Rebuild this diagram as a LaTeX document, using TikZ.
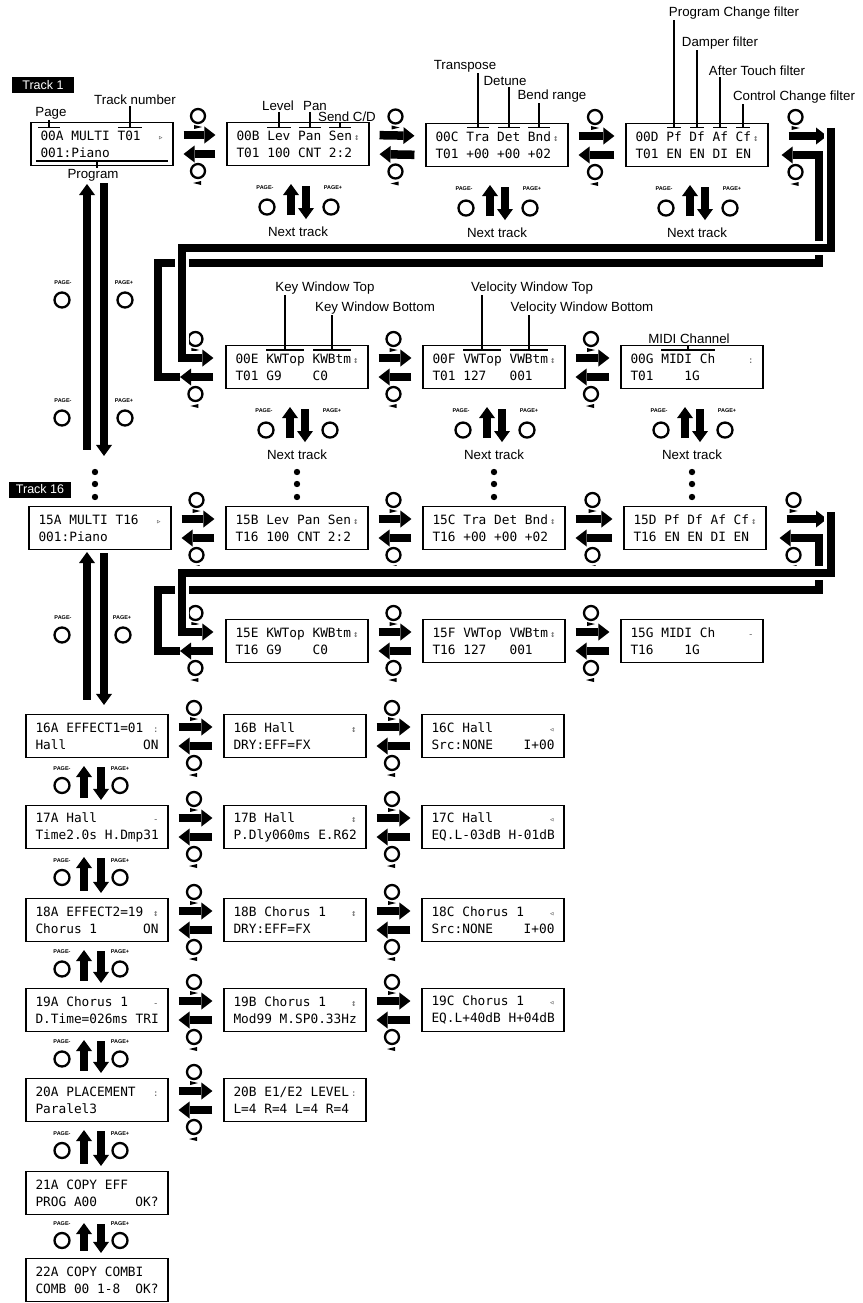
\documentclass[tikz,border=0pt]{standalone}
\usepackage{fontspec}
\setmainfont{Liberation Sans}
\newfontfamily\lcdfont{DejaVu Sans Mono}
\usetikzlibrary{arrows.meta,calc}
\newcommand{\lcdrow}[2]{\makebox[123pt][l]{#1\hfill#2}}
\newcommand{\ind}[1]{{\color{black!65}\fontsize{9}{9}\selectfont#1}}

\begin{document}
\begin{tikzpicture}[x=1pt, y=1pt,
    lcd/.style = {draw, line width=1.1pt, minimum width=142pt, minimum height=43pt, inner sep=0pt, align=left, font=\fontsize{12.8}{17}\lcdfont},
    lbl/.style = {font=\fontsize{13.3}{15}\selectfont, inner sep=1pt},
    pg/.style = {font=\fontsize{5.5}{6}\selectfont\bfseries, inner sep=0pt},
    btn/.style = {circle, draw, line width=2.3pt, minimum size=14pt, inner sep=0pt},
    pbtn/.style = {circle, draw, line width=2.3pt, minimum size=15pt, inner sep=0pt},
    harr/.style = {line width=8.5pt, -{Triangle[length=11pt, width=17pt, line width=0pt]}},
    varr/.style = {line width=8.5pt, -{Triangle[length=11pt, width=16pt, line width=0pt]}},
    trk/.style = {fill=black, text=white, font=\fontsize{12.5}{14}\selectfont, minimum width=62pt, minimum height=16pt, inner sep=0pt},
    lead/.style = {line width=1.1pt},
    fwdln/.style = {line width=8.5pt, preaction={draw=white, line width=14pt}},
    retln/.style = {line width=8.5pt}
  ]
  \useasboundingbox (0,0) rectangle (862,-1303);

  % track 1
  \node[trk] (trk1) at (43,-85) {Track 1};
  \node[lcd] (a00) at (102,-144) {\lcdrow{00A MULTI T01}{\ind{▹}}\\\lcdrow{001:Piano}{}};
  \node[lcd] (b00) at (298,-144) {\lcdrow{00B Lev Pan Sen}{\ind{↕}}\\\lcdrow{T01 100 CNT 2:2}{}};
  \node[lcd] (c00) at (497,-145) {\lcdrow{00C Tra Det Bnd}{\ind{↕}}\\\lcdrow{T01 +00 +00 +02}{}};
  \node[lcd] (d00) at (697,-145) {\lcdrow{00D Pf Df Af Cf}{\ind{↕}}\\\lcdrow{T01 EN EN DI EN}{}};
  \node[lcd] (e00) at (297,-367) {\lcdrow{00E KWTop KWBtm}{\ind{↕}}\\\lcdrow{T01 G9~~~~C0}{}};
  \node[lcd] (f00) at (494,-367) {\lcdrow{00F VWTop VWBtm}{\ind{↕}}\\\lcdrow{T01 127~~~001}{}};
  \node[lcd] (g00) at (692,-367) {\lcdrow{00G MIDI Ch}{\ind{:}}\\\lcdrow{T01~~~~1G}{}};

  % track 16
  \node[trk] (trk16) at (40,-489.5) {Track 16};
  \node[lcd] (a15) at (100,-528) {\lcdrow{15A MULTI T16}{\ind{▹}}\\\lcdrow{001:Piano}{}};
  \node[lcd] (b15) at (297,-528) {\lcdrow{15B Lev Pan Sen}{\ind{↕}}\\\lcdrow{T16 100 CNT 2:2}{}};
  \node[lcd] (c15) at (494,-528) {\lcdrow{15C Tra Det Bnd}{\ind{↕}}\\\lcdrow{T16 +00 +00 +02}{}};
  \node[lcd] (d15) at (695,-528) {\lcdrow{15D Pf Df Af Cf}{\ind{↕}}\\\lcdrow{T16 EN EN DI EN}{}};
  \node[lcd] (e15) at (297,-641) {\lcdrow{15E KWTop KWBtm}{\ind{↕}}\\\lcdrow{T16 G9~~~~C0}{}};
  \node[lcd] (f15) at (494,-641) {\lcdrow{15F VWTop VWBtm}{\ind{↕}}\\\lcdrow{T16 127~~~001}{}};
  \node[lcd] (g15) at (692,-641) {\lcdrow{15G MIDI Ch}{\ind{-}}\\\lcdrow{T16~~~~1G}{}};

  % effects
  \node[lcd] (a16) at (97,-736) {\lcdrow{16A EFFECT1=01}{\ind{:}}\\\lcdrow{Hall}{ON}};
  \node[lcd] (b16) at (295,-736) {\lcdrow{16B Hall}{\ind{↕}}\\\lcdrow{DRY:EFF=FX}{}};
  \node[lcd] (c16) at (493,-736) {\lcdrow{16C Hall}{\ind{◃}}\\\lcdrow{Src:NONE}{I+00}};
  \node[lcd] (a17) at (97,-827) {\lcdrow{17A Hall}{\ind{-}}\\\lcdrow{Time2.0s H.Dmp31}{}};
  \node[lcd] (b17) at (295,-827) {\lcdrow{17B Hall}{\ind{↕}}\\\lcdrow{P.Dly060ms E.R62}{}};
  \node[lcd] (c17) at (493,-827) {\lcdrow{17C Hall}{\ind{◃}}\\\lcdrow{EQ.L-03dB H-01dB}{}};
  \node[lcd] (a18) at (97,-920) {\lcdrow{18A EFFECT2=19}{\ind{↕}}\\\lcdrow{Chorus 1}{ON}};
  \node[lcd] (b18) at (295,-920) {\lcdrow{18B Chorus 1}{\ind{↕}}\\\lcdrow{DRY:EFF=FX}{}};
  \node[lcd] (c18) at (493,-920) {\lcdrow{18C Chorus 1}{\ind{◃}}\\\lcdrow{Src:NONE}{I+00}};
  \node[lcd] (a19) at (97,-1010) {\lcdrow{19A Chorus 1}{\ind{-}}\\\lcdrow{D.Time=026ms TRI}{}};
  \node[lcd] (b19) at (295,-1010) {\lcdrow{19B Chorus 1}{\ind{↕}}\\\lcdrow{Mod99 M.SP0.33Hz}{}};
  \node[lcd] (c19) at (493,-1010) {\lcdrow{19C Chorus 1}{\ind{◃}}\\\lcdrow{EQ.L+40dB H+04dB}{}};
  \node[lcd] (a20) at (97,-1100) {\lcdrow{20A PLACEMENT}{\ind{:}}\\\lcdrow{Paralel3}{}};
  \node[lcd] (b20) at (295,-1100) {\lcdrow{20B E1/E2 LEVEL}{\ind{:}}\\\lcdrow{L=4 R=4 L=4 R=4}{}};
  \node[lcd] (a21) at (97,-1193) {\lcdrow{21A COPY EFF}{}\\\lcdrow{PROG A00}{OK?}};
  \node[lcd] (a22) at (97,-1280) {\lcdrow{22A COPY COMBI}{}\\\lcdrow{COMB 00 1-8}{OK?}};

  % parameter names
  \foreach \n/\t/\x/\y in {lpage/Page/51/-113, ltrk/Track number/135/-100,
      llev/Level/278/-106, lpan/Pan/315/-106, lsend/{Send C/D}/347/-117,
      ltra/Transpose/465/-66, ldet/Detune/505/-81, lbnd/Bend range/552/-96,
      lpcf/Program Change filter/734/-13, ldmp/Damper filter/720/-43,
      laft/After Touch filter/757/-71, lccf/Control Change filter/794/-97,
      lkwt/Key Window Top/325/-288, lkwb/Key Window Bottom/375/-308,
      lvwt/Velocity Window Top/532/-288, lvwb/Velocity Window Bottom/582/-308,
      lmidi/MIDI Channel/689/-339}{
    \node[lbl] (\n) at (\x,\y) {\t};
  }
  \foreach \n/\x/\y/\w in {lpage/49/-127.5/11, ltrk/130/-127.5/12, llev/279/-127.5/12,
      lpan/310/-127.5/11, lsend/340/-127.5/11, ltra/478/-127.5/11, ldet/509/-127.5/11,
      lbnd/539/-127.5/11, lpcf/674/-127.5/7, ldmp/697/-127.5/7, laft/720/-127.5/7,
      lccf/743/-127.5/7, lkwt/285/-350/19, lkwb/332/-350/19, lvwt/482/-350/19,
      lvwb/529/-350/19, lmidi/688/-350/27}{
    \coordinate (p\n) at (\x,\y);
    \draw[lead] (\n.south -| p\n) -- (p\n);
    \draw[lead] ([xshift=-\w pt]p\n) -- ([xshift=\w pt]p\n);
  }
  \node[lbl] (lprog) at (93,-175) {Program};
  \coordinate (pprog) at (97,-161);
  \draw[lead] (lprog.north -| pprog) -- (pprog);
  \draw[lead] ([xshift=-61pt]pprog) -- ([xshift=71pt]pprog);

  % cursor keys between pages
  \foreach \l/\r in {a00/b00, b00/c00, c00/d00, e00/f00, f00/g00,
      a15/b15, b15/c15, c15/d15, e15/f15, f15/g15,
      a16/b16, b16/c16, a17/b17, b17/c17, a18/b18, b18/c18,
      a19/b19, b19/c19, a20/b20}{
    \draw[harr, shorten <=10pt, shorten >=11pt] ([yshift=9pt]\l.east) -- ([yshift=9pt]\r.west);
    \draw[harr, shorten <=11pt, shorten >=10pt] ([yshift=-10pt]\r.west) -- ([yshift=-10pt]\l.east);
    \coordinate (m) at ($(\l.east)!0.5!(\r.west)$);
    \node[btn] (\l-u) at ($(m)+(-2,28)$) {};
    \fill ($(m)+(-6,19)$) -- ++(8,-2) -- ++(-8,-2) -- cycle;
    \node[btn] (\l-d) at ($(m)+(-2,-27)$) {};
    \fill ($(m)+(1,-37)$) -- ++(-8,-2) -- ++(8,-2) -- cycle;
  }
  \foreach \k/\n/\s in {1/d00.east/29, 2/e00.west/-28, 3/d15.east/29, 4/e15.west/-28}{
    \coordinate (m) at ($(\n)+(\s,0)$);
    \node[btn] (x\k-u) at ($(m)+(-2,28)$) {};
    \fill ($(m)+(-6,19)$) -- ++(8,-2) -- ++(-8,-2) -- cycle;
    \node[btn] (x\k-d) at ($(m)+(-2,-27)$) {};
    \fill ($(m)+(1,-37)$) -- ++(-8,-2) -- ++(8,-2) -- cycle;
  }

  % track 1: page D on to page E and back
  \coordinate (f1) at (827,-136);
  \coordinate (f1top) at (831,-128);
  \coordinate (f1c) at (182,-248);
  \coordinate (r1a) at (180,-377);
  \coordinate (r1b) at (158,-263);
  \coordinate (r1c) at (819,-155);
  \draw[harr, shorten <=20pt] ([yshift=9pt]d00.east) -- (f1);
  \draw[harr, shorten <=12pt] ([yshift=-10pt]e00.west) -- (r1a);
  \draw[retln, harr, shorten >=13pt] (r1a) -| (r1b) -| (r1c) -- ([yshift=-10pt]d00.east);
  \draw[fwdln, harr, shorten >=12pt] (f1top) |- (f1c) |- ([yshift=9pt]e00.west);

  % track 16: page D on to page E and back
  \coordinate (f2) at (827,-519);
  \coordinate (f2top) at (831,-512);
  \coordinate (f2c) at (182,-573);
  \coordinate (r2a) at (180,-651);
  \coordinate (r2b) at (158,-590);
  \coordinate (r2c) at (819,-538);
  \draw[harr, shorten <=20pt] ([yshift=9pt]d15.east) -- (f2);
  \draw[harr, shorten <=12pt] ([yshift=-10pt]e15.west) -- (r2a);
  \draw[retln, harr, shorten >=13pt] (r2a) -| (r2b) -| (r2c) -- ([yshift=-10pt]d15.east);
  \draw[fwdln, harr, shorten >=12pt] (f2top) |- (f2c) |- ([yshift=9pt]e15.west);

  % next track
  \foreach \b in {b00, c00, d00, e00, f00, g00}{
    \draw[varr] ($(\b.south)+(-7,-49)$) -- ($(\b.south)+(-7,-18)$);
    \draw[varr] ($(\b.south)+(8,-20)$) -- ($(\b.south)+(8,-53)$);
    \node[pbtn] (\b-m) at ($(\b.south)+(-31,-41)$) {};
    \node[pbtn] (\b-p) at ($(\b.south)+(33,-41)$) {};
    \node[pg] (\b-ml) at ($(\b.south)+(-33,-22)$) {PAGE-};
    \node[pg] (\b-pl) at ($(\b.south)+(35,-22)$) {PAGE+};
    \node[lbl] (\b-nt) at ($(\b.south)+(0,-66)$) {Next track};
  }
  \foreach \x in {95, 297, 494, 692}{
    \foreach \y in {472, 484, 497}{
      \fill (\x,-\y) circle (3.2pt);
    }
  }

  % page keys in the first column
  \coordinate (upA) at (87,-184);
  \coordinate (dnA) at (104,-183);
  \draw[varr, shorten <=56pt] (upA |- a15.north) -- (upA);
  \draw[varr, shorten >=50pt] (dnA) -- (dnA |- a15.north);
  \coordinate (upB) at (87,-552);
  \coordinate (dnB) at (104,-553);
  \draw[varr, shorten <=14pt] (upB |- a16.north) -- (upB);
  \draw[varr, shorten >=9pt] (dnB) -- (dnB |- a16.north);
  \foreach \k/\xm/\xp/\y in {1/62/125/-300, 2/62/125/-418, 3/62/123/-635}{
    \node[pbtn] (am\k) at (\xm,\y) {};
    \node[pbtn] (ap\k) at (\xp,\y) {};
    \node[pg] (aml\k) at (\xm+1,\y+17) {PAGE-};
    \node[pg] (apl\k) at (\xp-1,\y+17) {PAGE+};
  }
  \foreach \u/\n in {a16/a17, a17/a18, a18/a19, a19/a20, a20/a21, a21/a22}{
    \draw[varr, shorten <=7pt, shorten >=8pt] ([xshift=-13pt]\n.north) -- ([xshift=-13pt]\u.south);
    \draw[varr, shorten <=9pt, shorten >=5pt] ([xshift=4pt]\u.south) -- ([xshift=4pt]\n.north);
    \coordinate (g) at ($(\u.south)!0.5!(\n.north)$);
    \node[pbtn] (\u-m) at ($(g)+(-35,-4)$) {};
    \node[pbtn] (\u-p) at ($(g)+(23,-4)$) {};
    \node[pg] (\u-ml) at ($(g)+(-35,13)$) {PAGE-};
    \node[pg] (\u-pl) at ($(g)+(23,13)$) {PAGE+};
  }
\end{tikzpicture}
\end{document}
